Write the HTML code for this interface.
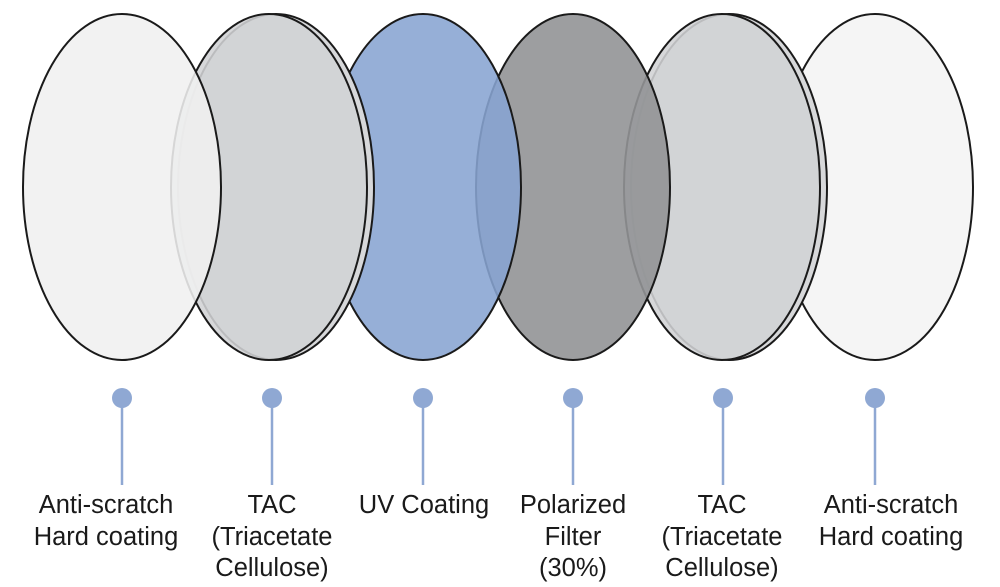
<!DOCTYPE html>
<html><head><meta charset="utf-8"><style>
html,body{margin:0;padding:0;background:#fff;}
svg{display:block;}
text{font-family:"Liberation Sans",sans-serif;font-size:25.5px;fill:#1a1a1a;text-anchor:middle;}
</style></head><body>
<svg width="1000" height="587" viewBox="0 0 1000 587">
<g stroke="#1a1a1a" stroke-width="2">
<ellipse cx="875" cy="187" rx="98" ry="173" fill="#f5f5f5"/>
<ellipse cx="729" cy="187" rx="98" ry="173" fill="#d7d8da"/>
<ellipse cx="722" cy="187" rx="98" ry="173" fill="#d2d3d5" fill-opacity="0.88"/>
<ellipse cx="573" cy="187" rx="97" ry="173" fill="#929396" fill-opacity="0.9"/>
<ellipse cx="423" cy="187" rx="98" ry="173" fill="#88a4d2" fill-opacity="0.88"/>
<ellipse cx="276" cy="187" rx="98" ry="173" fill="#d7d8da"/>
<ellipse cx="269" cy="187" rx="98" ry="173" fill="#d2d3d5" fill-opacity="0.88"/>
<ellipse cx="122" cy="187" rx="99" ry="173" fill="#f0f0f0" fill-opacity="0.88"/>
</g>
<g stroke="#8fa8d3" stroke-width="2.5" fill="#8fa8d3">
<line x1="122" y1="398" x2="122" y2="485"/><circle cx="122" cy="398" r="10" stroke="none"/>
<line x1="272" y1="398" x2="272" y2="485"/><circle cx="272" cy="398" r="10" stroke="none"/>
<line x1="423" y1="398" x2="423" y2="485"/><circle cx="423" cy="398" r="10" stroke="none"/>
<line x1="573" y1="398" x2="573" y2="485"/><circle cx="573" cy="398" r="10" stroke="none"/>
<line x1="723" y1="398" x2="723" y2="485"/><circle cx="723" cy="398" r="10" stroke="none"/>
<line x1="875" y1="398" x2="875" y2="485"/><circle cx="875" cy="398" r="10" stroke="none"/>
</g>
<text x="106" y="513">Anti-scratch</text><text x="106" y="545">Hard coating</text>
<text x="272" y="513">TAC</text><text x="272" y="545">(Triacetate</text><text x="272" y="576">Cellulose)</text>
<text x="424" y="513">UV Coating</text>
<text x="573" y="513">Polarized</text><text x="573" y="545">Filter</text><text x="573" y="576">(30%)</text>
<text x="722" y="513">TAC</text><text x="722" y="545">(Triacetate</text><text x="722" y="576">Cellulose)</text>
<text x="891" y="513">Anti-scratch</text><text x="891" y="545">Hard coating</text>
</svg>
</body></html>
